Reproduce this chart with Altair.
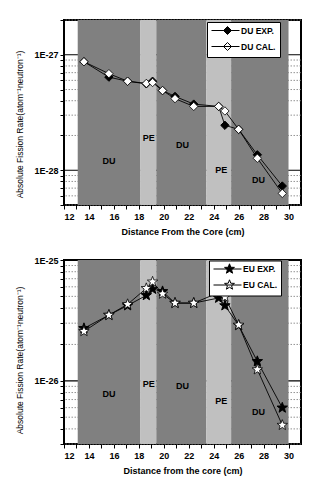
import math
import altair as alt
import pandas as pd

# ---------------- data ----------------
x_pos = [13.6, 15.6, 17.1, 18.6, 19.1, 19.9, 20.9, 22.4, 24.4, 24.9, 26.0, 27.5, 29.5]
du_exp = [8.7e-28, 6.4e-28, 5.9e-28, 5.6e-28, 5.9e-28, 4.9e-28, 4.36e-28, 3.74e-28,
          3.57e-28, 2.45e-28, 2.26e-28, 1.36e-28, 7.3e-29]
du_cal = [8.7e-28, 6.86e-28, 5.9e-28, 5.65e-28, 5.75e-28, 4.9e-28, 4.17e-28, 3.57e-28,
          3.57e-28, 3.26e-28, 2.26e-28, 1.27e-28, 6.3e-29]
eu_exp = [2.72e-26, 3.5e-26, 4.2e-26, 5.1e-26, 5.75e-26, 5.5e-26, 4.4e-26, 4.4e-26,
          4.85e-26, 4.2e-26, 2.88e-26, 1.45e-26, 5.98e-27]
eu_cal = [2.57e-26, 3.5e-26, 4.3e-26, 5.83e-26, 6.6e-26, 5.24e-26, 4.4e-26, 4.4e-26,
          5.37e-26, 4.94e-26, 2.9e-26, 1.24e-26, 4.3e-27]

region_start = [13.1, 18.1, 19.4, 23.4, 25.4]
region_end = [18.1, 19.4, 23.4, 25.4, 30.0]
region_kind = ["DU", "PE", "DU", "PE", "DU"]

label_x = [15.6, 18.8, 21.5, 24.6, 27.6]
du_label_y = [1.2e-28, 1.9e-28, 1.65e-28, 1.0e-28, 8.2e-29]
eu_label_y = [7.76e-27, 9.5e-27, 9.0e-27, 6.84e-27, 5.5e-27]

x_ticks = list(range(12, 31))
du_y_ticks = [5e-29, 6e-29, 7e-29, 8e-29, 9e-29,
              1e-28, 2e-28, 3e-28, 4e-28, 5e-28, 6e-28, 7e-28, 8e-28, 9e-28,
              1e-27, 2e-27]
eu_y_ticks = [3e-27, 4e-27, 5e-27, 6e-27, 7e-27, 8e-27, 9e-27,
              1e-26, 2e-26, 3e-26, 4e-26, 5e-26, 6e-26, 7e-26, 8e-26, 9e-26,
              1e-25]
du_major = [1e-28, 1e-27]
eu_major = [1e-26, 1e-25]
du_domain = [5e-29, 2e-27]
eu_domain = [3e-27, 1e-25]

du_names = ["DU EXP.", "DU CAL."]
eu_names = ["EU EXP.", "EU CAL."]

FONT = "Liberation Sans"
DARK = "#808080"
LIGHT = "#c0c0c0"
MAJOR = "abs(log(datum.value)/LN10 - round(log(datum.value)/LN10)) < 0.001"


def star_path(cx, R, r):
    pts = []
    for i in range(10):
        ang = -math.pi / 2 + i * math.pi / 5
        rad = R if i % 2 == 0 else r
        pts.append((cx + rad * math.cos(ang), rad * math.sin(ang)))
    return "M" + "L".join(f"{a:.3f},{b:.3f}" for a, b in pts) + "Z"


STAR = star_path(0, 1, 0.42)
line_part = "M-3.5,0L3.5,0"
diamond_leg = line_part + "M0.5,-1L1.5,0L0.5,1L-0.5,0Z"
star_leg = line_part + star_path(0.5, 1.3, 0.55)


def panel(exp_vals, cal_vals, names, shape, size, ydomain, yticks, majors, label_y,
          xtitle, leg_x, leg_y, leg_path, row_pad, height, title_y):
    n = len(x_pos)
    pts = pd.DataFrame({"x": x_pos * 2, "y": exp_vals + cal_vals,
                        "series": [names[0]] * n + [names[1]] * n})
    reg = pd.DataFrame({"start": region_start, "end": region_end, "kind": region_kind})
    lab = pd.DataFrame({"x": label_x, "y": label_y, "kind": region_kind})
    minor = pd.DataFrame({"y": [t for t in yticks if t not in majors]})
    major = pd.DataFrame({"y": majors})

    xscale = alt.Scale(domain=[12, 31], nice=False, zero=False)
    yscale = alt.Scale(type="log", domain=ydomain, nice=False)
    xaxis = alt.Axis(title=xtitle, values=x_ticks, format="d",
                     labelExpr="datum.value % 2 == 0 ? datum.label : ''",
                     grid=False, domain=False, tickSize=4,
                     tickColor="black", labelFont=FONT, labelFontWeight="bold",
                     labelFontSize=9, labelColor="black", labelPadding=3,
                     titleFont=FONT, titleFontWeight="bold", titleFontSize=9,
                     titleColor="black", titlePadding=6)
    yaxis = alt.Axis(title="Absolute Fission Rate(atom⁻¹neutron⁻¹)", values=yticks,
                     labelExpr=f"{MAJOR} ? '1E' + round(log(datum.value)/LN10) : ''",
                     grid=False, domain=False, tickSize=4,
                     tickColor="black", labelFont=FONT, labelFontWeight="bold",
                     labelFontSize=9, labelColor="black", labelPadding=2,
                     titleFont=FONT, titleFontWeight="normal", titleFontSize=8.5,
                     titleColor="black", titlePadding=9, titleY=title_y)

    xenc = alt.X("x:Q", scale=xscale, axis=xaxis)
    yenc = alt.Y("y:Q", scale=yscale, axis=yaxis)

    g_minor = alt.Chart(minor).mark_rule(color="#777777", strokeWidth=0.8,
                                         strokeDash=[1.5, 1.5]).encode(y=yenc)
    g_major = alt.Chart(major).mark_rule(color="black", strokeWidth=1.2).encode(y=yenc)
    regions = alt.Chart(reg).mark_rect().encode(
        x=alt.X("start:Q", scale=xscale, axis=xaxis),
        x2="end:Q",
        color=alt.Color("kind:N", scale=alt.Scale(domain=["DU", "PE"], range=[DARK, LIGHT]),
                        legend=None),
    )
    texts = alt.Chart(lab).mark_text(font=FONT, fontWeight="bold", fontSize=9,
                                     color="black").encode(x=xenc, y=yenc, text="kind:N")
    lines = alt.Chart(pts).mark_line(color="black", strokeWidth=0.9).encode(
        x=xenc, y=yenc, detail="series:N")
    p_exp = alt.Chart(pts).transform_filter(alt.datum.series == names[0]).mark_point(
        shape=shape, size=size, filled=True, fill="black", stroke="black",
        strokeWidth=1, opacity=1).encode(x=xenc, y=yenc)
    p_cal = alt.Chart(pts).transform_filter(alt.datum.series == names[1]).mark_point(
        shape=shape, size=size, filled=True, fill="white", stroke="black",
        strokeWidth=0.8, opacity=1).encode(x=xenc, y=yenc)

    legend = alt.Legend(title=None, orient="none", legendX=leg_x, legendY=leg_y,
                        fillColor="white", strokeColor="black", padding=4,
                        symbolSize=64, symbolOffset=10, labelOffset=11,
                        symbolStrokeColor="black", symbolStrokeWidth=1, symbolOpacity=1,
                        labelFont=FONT, labelFontWeight="bold", labelFontSize=8.5,
                        labelColor="black", rowPadding=row_pad)
    leg = alt.Chart(pts).transform_filter("false").mark_point(
        filled=False, strokeWidth=1, opacity=1).encode(
        shape=alt.Shape("series:N", scale=alt.Scale(domain=names, range=[leg_path, leg_path]),
                        legend=legend),
        fill=alt.Fill("series:N", scale=alt.Scale(domain=names, range=["black", "white"]),
                      legend=legend),
        stroke=alt.Stroke("series:N", scale=alt.Scale(domain=names, range=["black", "black"]),
                          legend=legend),
    )
    return alt.layer(g_minor, g_major, regions, texts, lines, p_exp, p_cal, leg).properties(
        width=237, height=height)


top = panel(du_exp, du_cal, du_names, "diamond", 70, du_domain, du_y_ticks, du_major,
            du_label_y, "Distance From the Core (cm)", 143, 2, diamond_leg, 3, 185, 104)
bottom = panel(eu_exp, eu_cal, eu_names, STAR, 120, eu_domain, eu_y_ticks, eu_major,
               eu_label_y, "Distance from the core (cm)", 145, 0.5, star_leg, 2, 184, 100)

chart = alt.vconcat(top, bottom, spacing=18).resolve_scale(
    shape="independent", fill="independent", stroke="independent", color="independent"
).resolve_legend(shape="independent", fill="independent", stroke="independent").properties(
    padding={"left": 6, "top": 10, "right": 0, "bottom": 0}
).configure_view(stroke="black", strokeWidth=2)

chart.save("out.html", embed_options={"renderer": "svg", "actions": False})
